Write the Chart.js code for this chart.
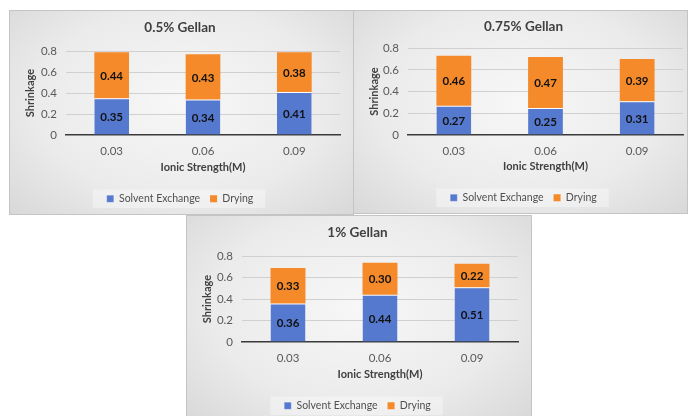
<!DOCTYPE html>
<html>
<head>
<meta charset="utf-8">
<script src="https://cdn.jsdelivr.net/npm/chart.js@4.4.1/dist/chart.umd.min.js"></script>
<style>
  body { margin: 0; background: #ffffff; width: 693px; height: 416px; overflow: hidden; position: relative; }
  .panel {
    position: absolute;
    box-sizing: border-box;
    border: 1px solid #c4c4c4;
    background: radial-gradient(ellipse at 50% 45%, #f7f7f7 0%, #ebebeb 60%, #d8d8d8 100%);
  }
  .panel canvas { position: absolute; left: 0; top: 0; }
</style>
</head>
<body>
<div class="panel" style="left:9px; top:10px; width:345px; height:205px;"><canvas id="chart1"></canvas></div>
<div class="panel" style="left:353px; top:10px; width:335px; height:204px;"><canvas id="chart2"></canvas></div>
<div class="panel" style="left:186px; top:215px; width:346px; height:207px;"><canvas id="chart3"></canvas></div>
<script>
const categories = ['0.03', '0.06', '0.09']
const seriesNames = ['Solvent Exchange', 'Drying']

const solvent05 = [0.35, 0.34, 0.41]
const drying05 = [0.44, 0.43, 0.38]

const solvent075 = [0.27, 0.25, 0.31]
const drying075 = [0.46, 0.47, 0.39]

const solvent1 = [0.36, 0.44, 0.51]
const drying1 = [0.33, 0.30, 0.22]

const yMax = 0.8
const yStep = 0.2

const FONT = 'Lato, "Open Sans", sans-serif'
const BLUE = '#5579cf'
const ORANGE = '#f58a2b'

// draws value labels in the middle of each bar segment
const barLabels = {
    id: 'barLabels',
    afterDatasetsDraw(chart) {
        const ctx = chart.ctx
        ctx.save()
        ctx.font = 'bold 11.5px ' + FONT
        ctx.fillStyle = '#111111'
        ctx.textAlign = 'center'
        ctx.textBaseline = 'middle'
        chart.data.datasets.forEach((ds, i) => {
            chart.getDatasetMeta(i).data.forEach((bar, j) => {
                const mid = (bar.y + bar.base) / 2
                ctx.fillText(ds.data[j].toFixed(2), bar.x, mid + 1)
            })
        })
        ctx.restore()
    }
}

// light box behind the legend items
const legendBox = {
    id: 'legendBox',
    beforeDraw(chart) {
        const boxes = chart.legend && chart.legend.legendHitBoxes
        if (!boxes || !boxes.length) return
        const left = Math.min(...boxes.map(b => b.left)) - 14
        const right = Math.max(...boxes.map(b => b.left + b.width)) + 12
        const top = boxes[0].top - 4
        const ctx = chart.ctx
        ctx.save()
        ctx.fillStyle = 'rgba(255,255,255,0.35)'
        ctx.fillRect(left, top, right - left, boxes[0].height + 8)
        ctx.restore()
    }
}

function makeChart(id, title, solvent, drying, lay) {
    const el = document.getElementById(id)
    const box = el.parentElement
    el.width = box.clientWidth
    el.height = box.clientHeight
    el.style.width = box.clientWidth + 'px'
    el.style.height = box.clientHeight + 'px'

    return new Chart(el, {
        type: 'bar',
        data: {
            labels: categories,
            datasets: [
                { label: seriesNames[0], data: solvent, backgroundColor: BLUE, borderColor: 'rgba(255,255,255,0.8)', borderWidth: { top: 1 }, borderSkipped: false, barPercentage: 0.38, categoryPercentage: 1 },
                { label: seriesNames[1], data: drying, backgroundColor: ORANGE, borderWidth: 0, barPercentage: 0.38, categoryPercentage: 1 }
            ]
        },
        options: {
            responsive: false,
            animation: false,
            devicePixelRatio: 1,
            layout: { padding: { left: lay.left, right: lay.right, top: 0, bottom: 0 } },
            plugins: {
                title: {
                    display: true,
                    text: title,
                    color: '#404040',
                    font: { family: FONT, size: 13.5, weight: 'bold' },
                    padding: { top: lay.titleTop, bottom: lay.titleBottom }
                },
                legend: {
                    position: 'bottom',
                    labels: {
                        boxWidth: 7,
                        boxHeight: 7,
                        padding: 10,
                        color: '#505050',
                        font: { family: FONT, size: 10.5 }
                    }
                },
                tooltip: { enabled: false }
            },
            scales: {
                x: {
                    stacked: true,
                    grid: { display: false, drawTicks: false },
                    border: { display: true, color: '#3a3a3a', width: 1.5 },
                    ticks: { color: '#595959', font: { family: FONT, size: 11.5 }, padding: 9 },
                    title: { display: true, text: 'Ionic Strength(M)', color: '#404040', font: { family: FONT, size: 11, weight: 'bold' }, padding: { top: 2, bottom: 9 } },
                    afterFit: (s) => { s.height = lay.xHeight }
                },
                y: {
                    stacked: true,
                    min: 0,
                    max: yMax,
                    grid: {
                        color: (c) => c.tick && c.tick.value === 0 ? 'rgba(0,0,0,0)' : '#d0d0d0',
                        drawTicks: false
                    },
                    border: { display: false },
                    ticks: { stepSize: yStep, autoSkip: false, color: '#595959', font: { family: FONT, size: 11.5 }, padding: 9 },
                    title: { display: true, text: 'Shrinkage', color: '#404040', font: { family: FONT, size: 11, weight: 'bold' }, padding: { top: 4, bottom: 0 } },
                    afterFit: (s) => { s.width = lay.yWidth }
                }
            }
        },
        plugins: [legendBox, barLabels]
    })
}

makeChart('chart1', '0.5% Gellan', solvent05, drying05, { left: 10, right: 13, yWidth: 46, xHeight: 48.5, titleTop: 9, titleBottom: 15 })
makeChart('chart2', '0.75% Gellan', solvent075, drying075, { left: 10, right: 4, yWidth: 44, xHeight: 47.5, titleTop: 8, titleBottom: 13 })
makeChart('chart3', '1% Gellan', solvent1, drying1, { left: 10, right: 13, yWidth: 45, xHeight: 48.5, titleTop: 9, titleBottom: 15 })
</script>
</body>
</html>
